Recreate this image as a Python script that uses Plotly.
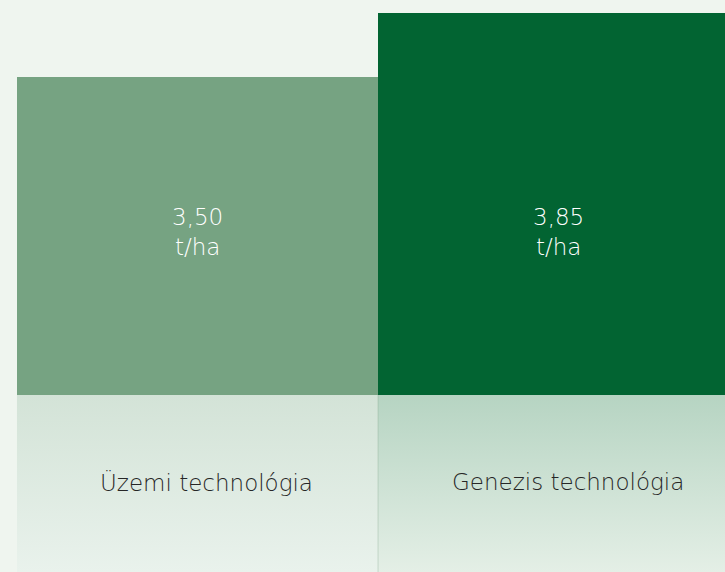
import plotly.graph_objects as go

# data
categories = ["Üzemi technológia", "Genezis technológia"]
values = [3.50, 3.85]
value_labels = ["3,50<br>t/ha", "3,85<br>t/ha"]
bar_colors = ["#76a382", "#026432"]
panel_scales = [
    [[0, "#e9f2ec"], [1, "#d3e3d7"]],
    [[0, "#e4efe6"], [1, "#b6d4c2"]],
]

BG = "#eff5ef"
FONT = "DejaVu Sans"
split = 177 / 572  # bottom label panel height as share of page

fig = go.Figure()

# bars (x positions are the category index)
xs = list(range(len(categories)))
fig.add_trace(go.Bar(
    x=xs, y=values, width=1,
    marker=dict(color=bar_colors, line=dict(width=0)),
    hoverinfo="skip", showlegend=False,
))

# gradient label panels under each bar
for i, cs in enumerate(panel_scales):
    fig.add_trace(go.Scatter(
        x=[i - 0.5, i + 0.5, i + 0.5, i - 0.5, i - 0.5],
        y=[0, 0, 1, 1, 0],
        yaxis="y2", mode="lines", line=dict(width=0),
        fill="toself", fillgradient=dict(type="vertical", colorscale=cs),
        hoverinfo="skip", showlegend=False,
    ))

# thin divider between the two lower panels
fig.add_trace(go.Scatter(
    x=[0.5, 0.5], y=[0, 1], yaxis="y2", mode="lines",
    line=dict(color="rgba(120,160,130,0.3)", width=1),
    hoverinfo="skip", showlegend=False,
))

annotations = []
for i, (lab, vl) in enumerate(zip(categories, value_labels)):
    annotations.append(dict(
        x=i, xref="x", y=1 - 232 / 572, yref="paper", text=vl,
        showarrow=False, font=dict(family=FONT, size=23, color="white", weight=200),
        align="center", yanchor="middle",
    ))
    annotations.append(dict(
        x=i + 0.025, xref="x", y=1 - 482 / 572, yref="paper", text=lab,
        showarrow=False, font=dict(family=FONT, size=23, color="#262626", weight=200),
        yanchor="middle",
    ))

fig.update_layout(
    width=725, height=572,
    margin=dict(l=0, r=0, t=0, b=0),
    paper_bgcolor=BG, plot_bgcolor=BG,
    bargap=0,
    xaxis=dict(range=[-0.547, 1.461], visible=False, fixedrange=True),
    yaxis=dict(domain=[split, 1], range=[1.761, 3.921], visible=False),
    yaxis2=dict(domain=[0, split], range=[0, 1], visible=False),
    annotations=annotations,
)

# drop the default page margin so the chart fills the window
fig.write_html("out.html", config={"displayModeBar": False},
               post_script="document.body.style.margin='0';")
